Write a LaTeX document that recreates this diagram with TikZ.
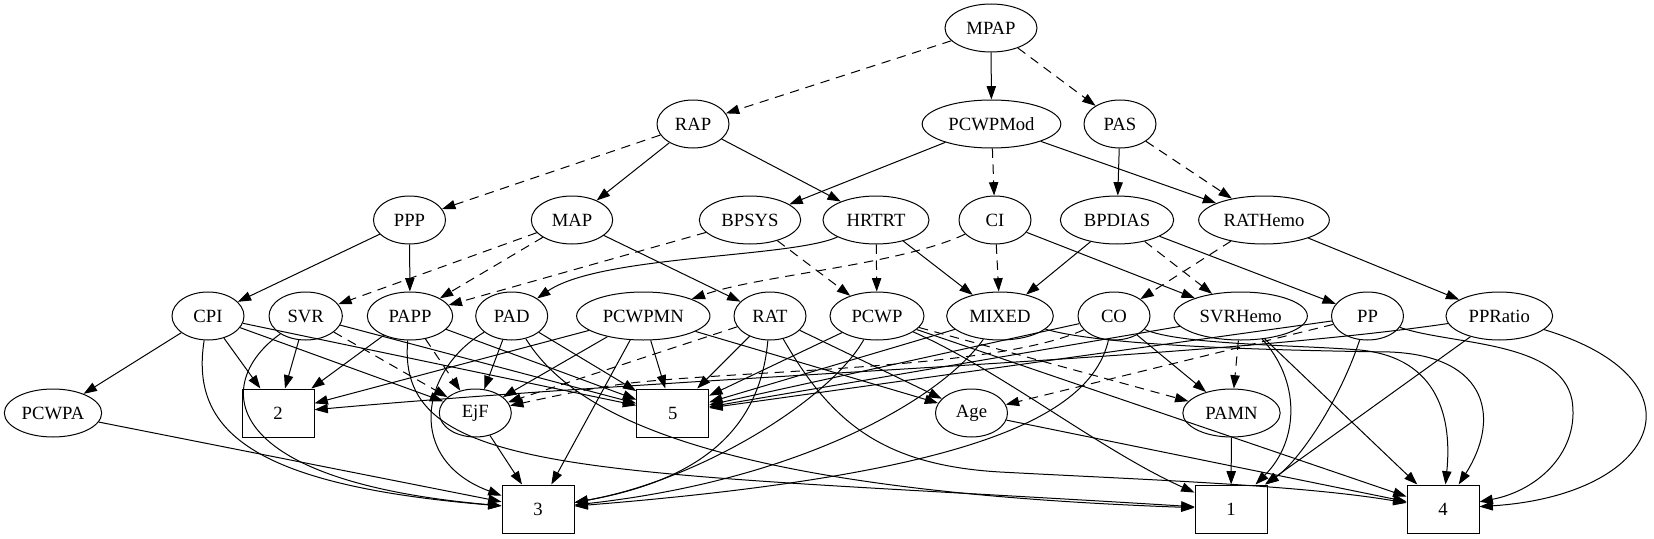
\documentclass[tikz,border=0pt]{standalone}
\usepackage{fontspec}
\setmainfont{Liberation Serif}
\usetikzlibrary{shapes.geometric,arrows.meta}
\begin{document}
\begin{tikzpicture}[x=0.75pt,y=-0.75pt,
  font=\fontsize{14pt}{16pt}\selectfont,
  el/.style={ellipse,draw,line width=0.75pt,inner sep=0pt,minimum height=36pt,minimum width=54pt},
  bx/.style={rectangle,draw,line width=0.75pt,inner sep=0pt,minimum height=36pt,minimum width=54pt},
  e/.style={draw,line width=0.75pt,-{Triangle[length=10pt,width=7pt]}},
  ed/.style={e,dash pattern=on 7pt off 5pt}]
\useasboundingbox (0,0) rectangle (1654,539);
% row 0
\node[el,minimum width=69pt] (MPAP) at (991,28) {MPAP};
% row 1
\node[el] (RAP) at (693,124) {RAP};
\node[el,minimum width=104pt] (PCWPMod) at (991.5,124) {PCWPMod};
\node[el] (PAS) at (1120,124) {PAS};
% row 2
\node[el] (PPP) at (409.5,220) {PPP};
\node[el,minimum width=61pt] (MAP) at (572,220) {MAP};
\node[el,minimum width=76pt] (BPSYS) at (750,220) {BPSYS};
\node[el,minimum width=79.5pt] (HRTRT) at (876,220) {HRTRT};
\node[el] (CI) at (995,220) {CI};
\node[el,minimum width=85pt] (BPDIAS) at (1117,220) {BPDIAS};
\node[el,minimum width=98pt] (RATHemo) at (1264,220) {RATHemo};
% row 3
\node[el] (CPI) at (208,316) {CPI};
\node[el,minimum width=55pt] (SVR) at (305.7,316) {SVR};
\node[el,minimum width=64pt] (PAPP) at (410,316) {PAPP};
\node[el] (PAD) at (511.7,316) {PAD};
\node[el,minimum width=100pt] (PCWPMN) at (643.3,316) {PCWPMN};
\node[el] (RAT) at (770,316) {RAT};
\node[el,minimum width=70.5pt] (PCWP) at (877,316) {PCWP};
\node[el,minimum width=80pt] (MIXED) at (1000,316) {MIXED};
\node[el] (CO) at (1114,316) {CO};
\node[el,minimum width=100pt] (SVRHemo) at (1240.7,316) {SVRHemo};
\node[el] (PP) at (1367.5,316) {PP};
\node[el,minimum width=80pt] (PPRatio) at (1499.3,316) {PPRatio};
% row 4
\node[el,minimum width=73pt] (PCWPA) at (53,413) {PCWPA};
\node[bx] (B2) at (278,413) {2};
\node[el] (EjF) at (475.3,413) {EjF};
\node[bx] (B5) at (672.7,413) {5};
\node[el] (Age) at (971.5,413) {Age};
\node[el,minimum width=73pt] (PAMN) at (1231.5,413) {PAMN};
% row 5
\node[bx] (B3) at (538,509) {3};
\node[bx] (B1) at (1231,509) {1};
\node[bx] (B4) at (1443,509) {4};

% top edges
\draw[ed] (MPAP) -- (RAP);
\draw[e] (MPAP) -- (PCWPMod);
\draw[ed] (MPAP) -- (PAS);
\draw[ed] (RAP) -- (PPP);
\draw[e] (RAP) -- (MAP);
\draw[e] (RAP) -- (HRTRT);
\draw[e] (PCWPMod) -- (BPSYS);
\draw[ed] (PCWPMod) -- (CI);
\draw[e] (PCWPMod) -- (RATHemo);
\draw[e] (PAS) -- (BPDIAS);
\draw[ed] (PAS) -- (RATHemo);
\draw[e] (PPP) -- (CPI);
\draw[e] (PPP) -- (PAPP);
\draw[ed] (MAP) -- (SVR);
\draw[ed] (MAP) -- (PAPP);
\draw[e] (MAP) -- (RAT);
\draw[ed] (BPSYS) -- (PAPP);
\draw[ed] (BPSYS) -- (PCWP);
\draw[e] (HRTRT) .. controls (790,258) and (600,255) .. (PAD);
\draw[ed] (HRTRT) -- (PCWP);
\draw[e] (HRTRT) -- (MIXED);
\draw[ed] (CI) .. controls (900,265) and (760,275) .. (PCWPMN);
\draw[ed] (CI) -- (MIXED);
\draw[e] (CI) -- (SVRHemo);
\draw[e] (BPDIAS) -- (MIXED);
\draw[ed] (BPDIAS) -- (SVRHemo);
\draw[e] (BPDIAS) -- (PP);
\draw[ed] (RATHemo) -- (CO);
\draw[e] (RATHemo) -- (PPRatio);

% CPI
\draw[e] (CPI) -- (PCWPA);
\draw[e] (CPI) -- (B2);
\draw[e] (CPI) .. controls (190,430) and (250,485) .. (B3);
\draw[e] (CPI) -- (EjF);
\draw[e] (CPI) -- (B5);
% SVR
\draw[e] (SVR) -- (B2);
\draw[e] (SVR) .. controls (215,380) and (210,480) .. (B3);
\draw[ed] (SVR) -- (EjF);
\draw[e] (SVR) -- (B5);
% PAPP
\draw[e] (PAPP) -- (B2);
\draw[ed] (PAPP) -- (EjF);
\draw[e] (PAPP) -- (B5);
\draw[e] (PAPP) .. controls (395,480) and (600,470) .. (B1);
% PAD
\draw[e] (PAD) -- (EjF);
\draw[e] (PAD) .. controls (420,370) and (405,460) .. (B3);
\draw[e] (PAD) -- (B5);
\draw[e] (PAD) .. controls (570,410) and (700,490) .. (B1);
% PCWPMN
\draw[e] (PCWPMN) -- (B2);
\draw[e] (PCWPMN) -- (EjF);
\draw[e] (PCWPMN) -- (B5);
\draw[e] (PCWPMN) -- (B3);
\draw[e] (PCWPMN) -- (Age);
% RAT
\draw[ed] (RAT) -- (EjF);
\draw[e] (RAT) -- (B5);
\draw[e] (RAT) .. controls (760,430) and (700,480) .. (B3);
\draw[e] (RAT) -- (Age);
\draw[e] (RAT) .. controls (830,420) and (880,465) .. (1000,472) .. controls (1150,480) and (1300,485) .. (B4);
% PCWP
\draw[e] (PCWP) -- (B5);
\draw[e] (PCWP) .. controls (830,400) and (700,480) .. (B3);
\draw[ed] (PCWP) -- (PAMN);
\draw[e] (PCWP) .. controls (1000,370) and (1100,450) .. (B1);
\draw[e] (PCWP) -- (B4);
% MIXED
\draw[e] (MIXED) -- (B5);
\draw[e] (MIXED) .. controls (940,400) and (800,480) .. (B3);
\draw[e] (MIXED) .. controls (1100,345) and (1250,350) .. (1390,352) .. controls (1490,356) and (1500,420) .. (B4);
% CO
\draw[e] (CO) -- (B5);
\draw[ed] (CO) .. controls (1000,368) and (760,370) .. (640,382) .. controls (600,386) and (560,395) .. (EjF);
\draw[e] (CO) .. controls (1090,420) and (960,475) .. (B3);
\draw[e] (CO) -- (PAMN);
\draw[e] (CO) .. controls (1180,345) and (1300,345) .. (1360,350) .. controls (1440,358) and (1452,420) .. (B4);
% SVRHemo
\draw[e] (SVRHemo) -- (B5);
\draw[ed] (SVRHemo) -- (PAMN);
\draw[e] (SVRHemo) .. controls (1300,380) and (1300,440) .. (B1);
\draw[e] (SVRHemo) -- (B4);
% PP
\draw[e] (PP) -- (B5);
\draw[ed] (PP) -- (Age);
\draw[e] (PP) .. controls (1340,400) and (1300,460) .. (B1);
\draw[e] (PP) .. controls (1450,345) and (1560,340) .. (1572,400) .. controls (1580,450) and (1540,490) .. (B4);
% PPRatio
\draw[e] (PPRatio) .. controls (1200,360) and (700,375) .. (B2);
\draw[e] (PPRatio) -- (B1);
\draw[e] (PPRatio) .. controls (1710,380) and (1660,495) .. (B4);
% others
\draw[e] (PCWPA) -- (B3);
\draw[e] (EjF) -- (B3);
\draw[e] (Age) -- (B4);
\draw[e] (PAMN) -- (B1);
\end{tikzpicture}
\end{document}
